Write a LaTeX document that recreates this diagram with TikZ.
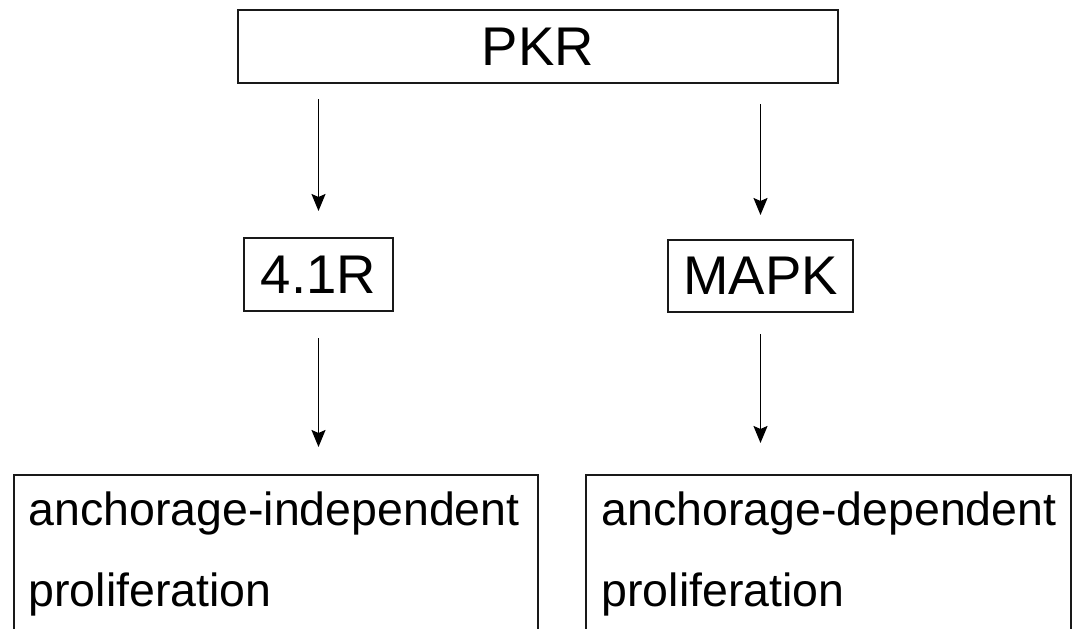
\documentclass[tikz,border=0pt]{standalone}
\usepackage{fontspec}
\setmainfont{Liberation Sans}
\usetikzlibrary{arrows.meta,calc}
\tikzset{
  box/.style={draw=black!90, line width=2pt, inner sep=0pt, fill=none},
  big/.style={font=\fontsize{54.5}{60}\selectfont},
  small/.style={font=\fontsize{46.5}{52}\selectfont, inner sep=0pt, anchor=base west},
  arr/.style={line width=1.7pt, -{Stealth[length=17pt,width=14pt,inset=3pt]}}
}
\begin{document}
\begin{tikzpicture}[x=1pt,y=-1pt]
\clip (0,0) rectangle (1077,629);
\fill[white] (0,0) rectangle (1077,629);
\node[box,big,minimum width=600pt,minimum height=73pt] (pkr) at (538,46.5) {PKR};
\node[box,big,minimum width=149pt,minimum height=73pt] (r41) at (318.5,274.5) {4.1R};
\node[box,big,minimum width=185pt,minimum height=72pt] (mapk) at (760.5,276) {MAPK};
\node[box,anchor=north west,minimum width=524pt,minimum height=200pt] (ai) at (13,474) {};
\node[box,anchor=north west,minimum width=485pt,minimum height=200pt] (ad) at (585,474) {};
\node[small] (ait1) at (28.3,525) {anchorage-independent};
\node[small] (ait2) at (28.3,606) {proliferation};
\node[small] (adt1) at (601.3,525) {anchorage-dependent};
\node[small] (adt2) at (601.3,606) {proliferation};
\draw[arr] ($(pkr.south -| r41.center)+(0,15)$) -- ($(r41.north)+(0,-26)$);
\draw[arr] ($(pkr.south -| mapk.center)+(0,20)$) -- ($(mapk.north)+(0,-24)$);
\draw[arr] ($(r41.south)+(0,26)$) -- ($(ai.north -| r41.south)+(0,-27)$);
\draw[arr] ($(mapk.south)+(0,21)$) -- ($(ad.north -| mapk.south)+(0,-31)$);
\end{tikzpicture}
\end{document}
